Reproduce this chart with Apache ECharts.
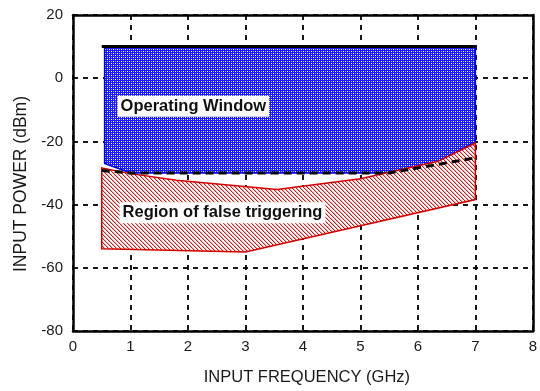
<!DOCTYPE html>
<html>
<head>
<meta charset="utf-8">
<script src="https://cdn.jsdelivr.net/npm/echarts@6/dist/echarts.min.js"></script>
<style>
  html, body { margin: 0; padding: 0; background: #fff; }
  #chart { width: 540px; height: 391px; }
</style>
</head>
<body>
<div id="chart"></div>
<script>
// Axis ticks
const xTicks = [0, 1, 2, 3, 4, 5, 6, 7, 8];
const yTicks = [-80, -60, -40, -20, 0, 20];

// Operating window outline (GHz, dBm), clockwise from top-left
const windowFreq  = [0.55, 7.0, 7.0,   6.35,  5.5, 1.0,  0.55];
const windowPower = [10,   10,  -20.2, -26.5, -30, -30,  -27];

// Upper limit line across the top of the window
const limitFreq  = [0.5, 7.0];
const limitPower = [10, 10];

// False-triggering region outline
const falseFreq  = [0.5,   1.0,   1.8,   3.55,  5.0,   6.35,  7.0,   7.0,   3.0, 0.5];
const falsePower = [-28.4, -30.2, -32.3, -35.2, -31.8, -26.3, -20.5, -38.4, -55, -54];

// Dashed threshold curve
const thresholdFreq  = [0.5,   1.0, 5.5, 7.0];
const thresholdPower = [-29.2, -30, -30, -25.2];

// Region labels
const labelText  = ['Operating Window', 'Region of false triggering'];
const labelFreq  = [0.775, 0.81];
const labelPower = [-8.9, -42.6];

function zip(xs, ys) { return xs.map((x, i) => [x, ys[i]]); }

// Fill patterns
function blueCheck() {
  const c = document.createElement('canvas');
  c.width = 4; c.height = 4;
  const g = c.getContext('2d');
  g.fillStyle = '#1a1aff';
  g.fillRect(0, 0, 4, 4);
  g.fillStyle = '#ffffff';
  g.fillRect(1, 1, 1, 1);
  g.fillRect(3, 3, 1, 1);
  g.fillStyle = '#a0a0ff';
  g.fillRect(3, 1, 1, 1);
  g.fillRect(1, 3, 1, 1);
  return c;
}
function redHatch() {
  const c = document.createElement('canvas');
  c.width = 4; c.height = 4;
  const g = c.getContext('2d');
  g.fillStyle = '#ffffff';
  g.fillRect(0, 0, 4, 4);
  g.fillStyle = '#e01010';
  for (let i = 0; i < 4; i++) g.fillRect(i, i, 1, 1);
  g.fillStyle = 'rgba(224,16,16,0.3)';
  for (let i = 0; i < 4; i++) g.fillRect((i + 1) % 4, i, 1, 1);
  return c;
}

function polygonSeries(pts, fill, stroke, lw, z) {
  return {
    type: 'custom',
    coordinateSystem: 'cartesian2d',
    z: z,
    silent: true,
    data: [pts[0]],
    renderItem: function (params, api) {
      return {
        type: 'polygon',
        shape: { points: pts.map(p => api.coord(p)) },
        style: { fill: fill, stroke: stroke, lineWidth: lw }
      };
    }
  };
}

const chart = echarts.init(document.getElementById('chart'), null, { renderer: 'canvas' });

const fontFam = '"Liberation Sans", Arial, Helvetica, sans-serif';

chart.setOption({
  animation: false,
  backgroundColor: '#ffffff',
  grid: { left: 73, right: 5, top: 15, bottom: 60, show: false },
  xAxis: [{
    type: 'value', min: xTicks[0], max: xTicks[xTicks.length - 1], interval: 1,
    position: 'bottom',
    name: 'INPUT FREQUENCY (GHz)', nameLocation: 'middle', nameGap: 38,
    nameTextStyle: { fontFamily: fontFam, fontSize: 16.5, color: '#1a1a1a', padding: [0, 0, 0, 8] },
    axisLine: { show: true, onZero: false, lineStyle: { color: '#000', width: 2.5 } },
    axisTick: { show: false },
    axisLabel: { fontFamily: fontFam, fontSize: 15, color: '#1a1a1a', margin: 8 },
    splitLine: { show: true, lineStyle: { color: '#000', width: 1.8, type: [5, 5] } }
  }, {
    type: 'value', min: xTicks[0], max: xTicks[xTicks.length - 1], interval: 1,
    position: 'top',
    axisLine: { show: true, onZero: false, lineStyle: { color: '#000', width: 2.5 } },
    axisTick: { show: false }, axisLabel: { show: false }, splitLine: { show: false }
  }],
  yAxis: [{
    type: 'value', min: yTicks[0], max: yTicks[yTicks.length - 1], interval: 20,
    position: 'left',
    name: 'INPUT POWER (dBm)', nameLocation: 'middle', nameGap: 43,
    nameTextStyle: { fontFamily: fontFam, fontSize: 17.5, color: '#1a1a1a', padding: [0, 22, 0, 0] },
    axisLine: { show: true, onZero: false, lineStyle: { color: '#000', width: 2.5 } },
    axisTick: { show: false },
    axisLabel: { fontFamily: fontFam, fontSize: 15, color: '#1a1a1a', margin: 10 },
    splitLine: { show: true, lineStyle: { color: '#000', width: 1.8, type: [5, 5] } }
  }, {
    type: 'value', min: yTicks[0], max: yTicks[yTicks.length - 1], interval: 20,
    position: 'right',
    axisLine: { show: true, onZero: false, lineStyle: { color: '#000', width: 2.5 } },
    axisTick: { show: false }, axisLabel: { show: false }, splitLine: { show: false }
  }],
  series: [
    polygonSeries(zip(windowFreq, windowPower),
      { image: blueCheck(), repeat: 'repeat' }, '#0000ee', 1.5, 3),
    polygonSeries(zip(falseFreq, falsePower),
      { image: redHatch(), repeat: 'repeat' }, '#d40000', 1.5, 4),
    {
      type: 'line', z: 6, silent: true, symbol: 'none',
      data: zip(limitFreq, limitPower),
      lineStyle: { color: '#000', width: 3 }
    },
    {
      type: 'line', z: 6, silent: true, symbol: 'none',
      data: zip(thresholdFreq, thresholdPower),
      lineStyle: { color: '#000', width: 3, type: [8, 5] }
    },
    {
      type: 'custom', z: 8, silent: true,
      coordinateSystem: 'cartesian2d',
      data: labelText.map((t, i) => [labelFreq[i], labelPower[i], t]),
      renderItem: function (params, api) {
        const p = api.coord([api.value(0), api.value(1)]);
        return {
          type: 'text',
          x: p[0], y: p[1],
          style: {
            text: labelText[params.dataIndex],
            fontFamily: fontFam, fontSize: 16.5, fontWeight: 'bold',
            fill: '#111',
            backgroundColor: '#fff',
            padding: [2, 3],
            align: 'left', verticalAlign: 'middle'
          }
        };
      }
    }
  ]
});
</script>
</body>
</html>
